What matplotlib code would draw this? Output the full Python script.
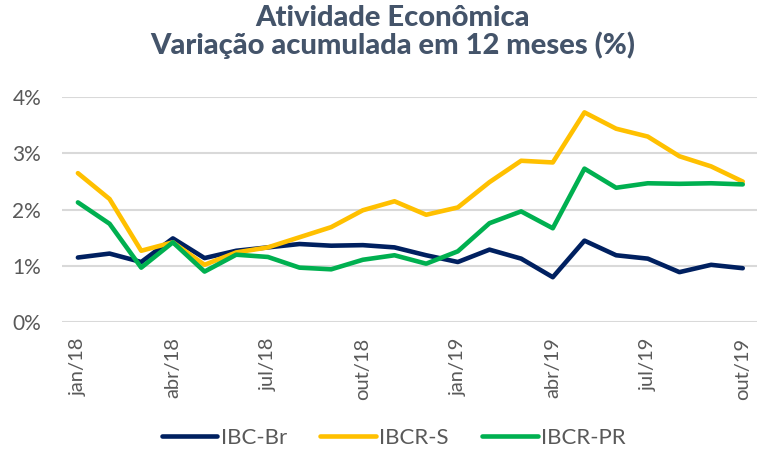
import matplotlib
matplotlib.use("Agg")
import matplotlib.pyplot as plt
import numpy as np

plt.rcParams['font.family'] = ['Lato', 'DejaVu Sans']

# months jan/18 .. out/19
meses = ["jan/18", "fev/18", "mar/18", "abr/18", "mai/18", "jun/18",
         "jul/18", "ago/18", "set/18", "out/18", "nov/18", "dez/18",
         "jan/19", "fev/19", "mar/19", "abr/19", "mai/19", "jun/19",
         "jul/19", "ago/19", "set/19", "out/19"]

# accumulated 12-month variation (%)
ibc_br = [1.15, 1.22, 1.07, 1.49, 1.14, 1.27, 1.33, 1.39, 1.36, 1.37, 1.33,
          1.19, 1.07, 1.29, 1.13, 0.80, 1.45, 1.19, 1.13, 0.89, 1.02, 0.96]
ibcr_s = [2.65, 2.19, 1.27, 1.42, 1.02, 1.24, 1.33, 1.51, 1.69, 1.99, 2.15,
          1.91, 2.04, 2.49, 2.87, 2.84, 3.73, 3.44, 3.30, 2.95, 2.77, 2.50]
ibcr_pr = [2.13, 1.75, 0.97, 1.42, 0.90, 1.20, 1.16, 0.97, 0.94, 1.11, 1.19,
           1.04, 1.26, 1.76, 1.97, 1.67, 2.73, 2.39, 2.47, 2.46, 2.47, 2.45]

x = np.arange(len(meses))

fig = plt.figure(figsize=(7.57, 4.5), dpi=100)
ax = fig.add_axes([0.082, 0.284, 0.918, 0.5])

ax.plot(x, ibc_br, color="#002060", lw=3.3, label="IBC-Br", solid_capstyle="round")
ax.plot(x, ibcr_s, color="#FFC000", lw=3.3, label="IBCR-S", solid_capstyle="round")
ax.plot(x, ibcr_pr, color="#00B050", lw=3.3, label="IBCR-PR", solid_capstyle="round")

ax.set_ylim(0, 4)
ax.set_xlim(-0.5, 21.45)
ax.set_yticks([0, 1, 2, 3, 4])
ax.set_yticklabels(["0%", "1%", "2%", "3%", "4%"], fontsize=15, color="#595959")
ax.set_xticks(x[::3])
ax.set_xticklabels(meses[::3], rotation=90, fontsize=14.5, color="#595959")
ax.tick_params(length=0, pad=15)
ax.tick_params(axis="x", pad=11)
ax.grid(axis="y", color="#D9D9D9", lw=1.5)
ax.set_axisbelow(True)
for s in ax.spines.values():
    s.set_visible(False)

fig.text(0.519, 0.99, "Atividade Econômica\nVariação acumulada em 12 meses (%)",
         ha="center", va="top", fontsize=21, fontweight="black", color="#44546A",
         linespacing=1.05)

fig.legend(loc="center", bbox_to_anchor=(0.52, 0.027), ncol=3, frameon=False,
           fontsize=16, handlelength=2.5, handletextpad=0.15, columnspacing=1.5,
           labelcolor="#595959")

fig.savefig("out.png", dpi=100)
